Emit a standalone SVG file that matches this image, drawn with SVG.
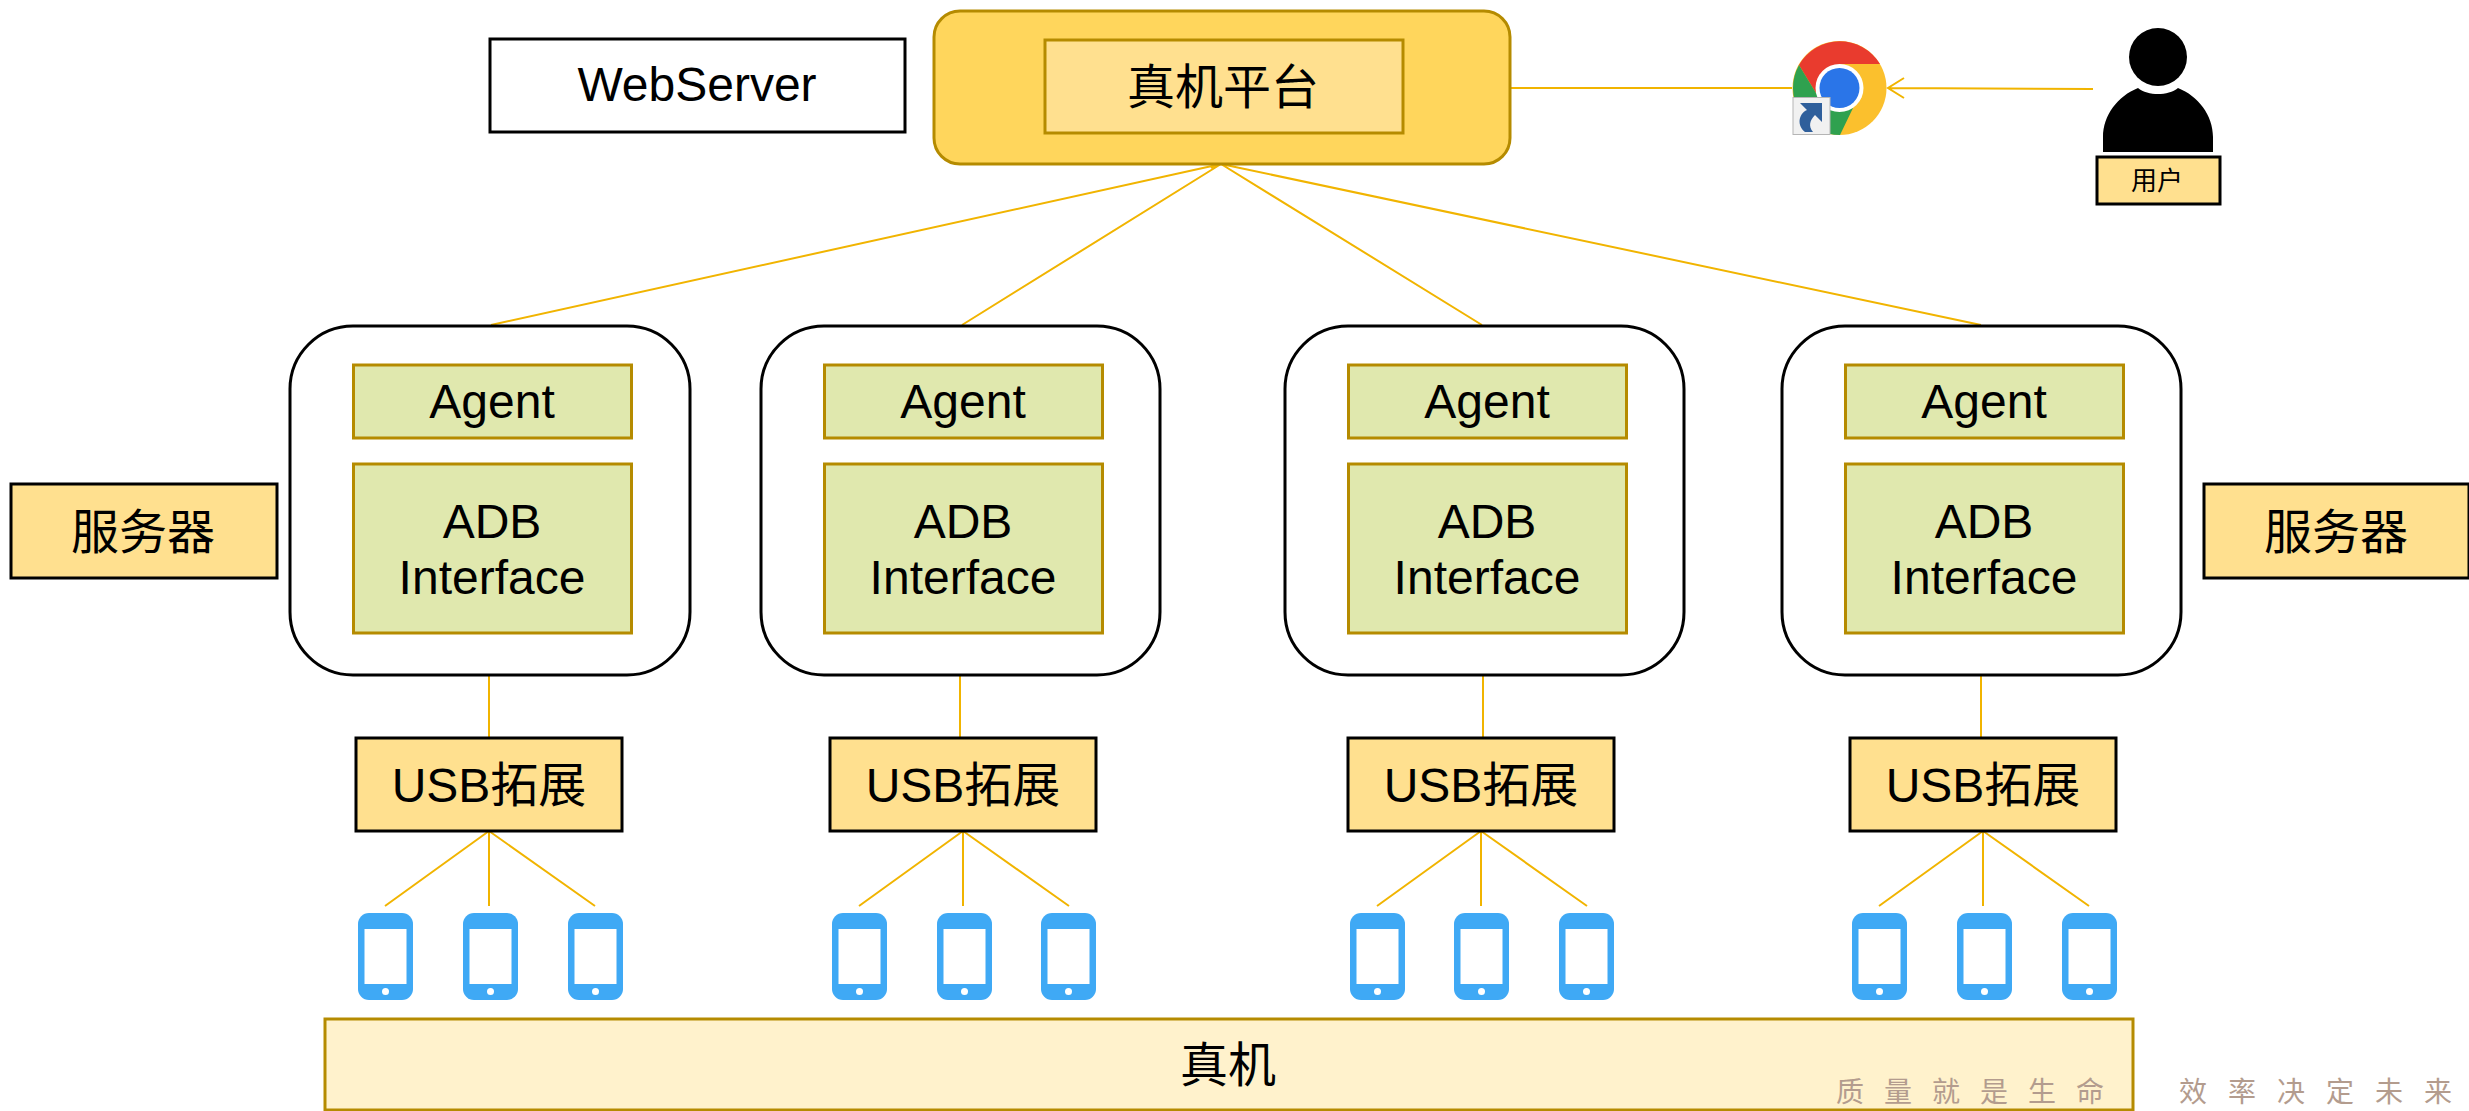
<svg xmlns="http://www.w3.org/2000/svg" width="2469" height="1111" viewBox="0 0 2469 1111">
<style>
text{font-family:"Liberation Sans","Noto Sans CJK SC",sans-serif;font-size:48px;fill:#000;text-anchor:middle}
.y{fill:#FFE08F;stroke:#000;stroke-width:3}
.g{fill:#E0E8AE;stroke:#B58B00;stroke-width:3}
.s{fill:#fff;stroke:#000;stroke-width:3}
.c{stroke:#F1B400;stroke-width:2;fill:none}
text.w{font-family:"Noto Sans CJK SC",sans-serif;font-size:28px;fill:#B39C8E;text-anchor:start}
</style>
<defs>
<g id="phone"><rect x="0" y="0" width="55" height="87" rx="11" fill="#3FA9F5"/><rect x="6.500" y="16" width="42" height="55" fill="#fff"/><circle cx="27.500" cy="78.500" r="3.500" fill="#fff"/></g>
</defs>
<rect width="2469" height="1111" fill="#fff"/>
<g id="connectors">
<path class="c" d="M1221 164L491 325M1221 164L962 325M1221 164L1482 325M1221 164L1981 325M1212 158L1219 163L1211 168"/>
<path class="c" d="M1510 88H1792M2093 89L1888 88M1904 78L1888 88L1904 98"/>
<path class="c" d="M489 675V737M489 831L385 906M489 831V906M489 831L595 906"/>
<path class="c" d="M960 675V737M963 831L859 906M963 831V906M963 831L1069 906"/>
<path class="c" d="M1483 675V737M1481 831L1377 906M1481 831V906M1481 831L1587 906"/>
<path class="c" d="M1981 675V737M1983 831L1879 906M1983 831V906M1983 831L2089 906"/>
</g>
<g id="webserver"><rect class="s" x="490" y="39" width="415" height="93"/><text x="697" y="101">WebServer</text></g>
<g id="platform"><rect x="934" y="11" width="576" height="153" rx="26" fill="#FFD65C" stroke="#B58B00" stroke-width="3"/><rect x="1045" y="40" width="358" height="93" fill="#FFE08F" stroke="#B58B00" stroke-width="3"/><text x="1223" y="104">真机平台</text></g>
<g id="chrome">
<circle cx="1839.500" cy="88" r="47" fill="#FBC02D"/>
<path d="M1799 65A47 47 0 0 1 1880 64H1839.500L1816 93Z" fill="#E93B2E"/>
<path d="M1799 65A47 47 0 0 0 1840 135L1853 108L1816 93Z" fill="#2FA14F"/>
<circle cx="1839.500" cy="88" r="24" fill="#fff"/><circle cx="1839.500" cy="88" r="20" fill="#2A75E8"/>
<rect x="1793" y="97.500" width="37" height="37" fill="#F1F1F1" stroke="#B5B5B5"/>
<path d="M1800 103H1822V122L1815 115C1810 120 1808 126 1813 132H1805C1797 126 1798 114 1807 110Z" fill="#2F5F9B"/>
</g>
<g id="user">
<circle cx="2158" cy="57" r="29"/>
<path d="M2103 152V137C2103 115 2118 96 2138 88C2148 96 2168 96 2178 88C2198 96 2213 115 2213 137V152Z"/>
<rect class="y" x="2097" y="157" width="123" height="47"/><text x="2157" y="190" style="font-size:26px">用户</text>
</g>
<g id="server-label-left"><rect class="y" x="11" y="484" width="266" height="94"/><text x="143" y="549">服务器</text></g>
<g id="server-label-right"><rect class="y" x="2204" y="484" width="265" height="94"/><text x="2336" y="549">服务器</text></g>
<g id="server-1"><rect class="s" x="290" y="326" width="400" height="349" rx="63"/><rect class="g" x="353.500" y="365" width="278" height="73"/><text x="492" y="418">Agent</text><rect class="g" x="353.500" y="464" width="278" height="169"/><text x="492" y="538">ADB</text><text x="492" y="594">Interface</text></g>
<g id="server-2"><rect class="s" x="761" y="326" width="399" height="349" rx="63"/><rect class="g" x="824.500" y="365" width="278" height="73"/><text x="963" y="418">Agent</text><rect class="g" x="824.500" y="464" width="278" height="169"/><text x="963" y="538">ADB</text><text x="963" y="594">Interface</text></g>
<g id="server-3"><rect class="s" x="1285" y="326" width="399" height="349" rx="63"/><rect class="g" x="1348.500" y="365" width="278" height="73"/><text x="1487" y="418">Agent</text><rect class="g" x="1348.500" y="464" width="278" height="169"/><text x="1487" y="538">ADB</text><text x="1487" y="594">Interface</text></g>
<g id="server-4"><rect class="s" x="1782" y="326" width="399" height="349" rx="63"/><rect class="g" x="1845.500" y="365" width="278" height="73"/><text x="1984" y="418">Agent</text><rect class="g" x="1845.500" y="464" width="278" height="169"/><text x="1984" y="538">ADB</text><text x="1984" y="594">Interface</text></g>
<g id="usb-1"><rect class="y" x="356" y="738" width="266" height="93"/><text x="489" y="802">USB拓展</text></g>
<g id="usb-2"><rect class="y" x="830" y="738" width="266" height="93"/><text x="963" y="802">USB拓展</text></g>
<g id="usb-3"><rect class="y" x="1348" y="738" width="266" height="93"/><text x="1481" y="802">USB拓展</text></g>
<g id="usb-4"><rect class="y" x="1850" y="738" width="266" height="93"/><text x="1983" y="802">USB拓展</text></g>
<g id="phones-1"><use href="#phone" x="358" y="913"/><use href="#phone" x="463" y="913"/><use href="#phone" x="568" y="913"/></g>
<g id="phones-2"><use href="#phone" x="832" y="913"/><use href="#phone" x="937" y="913"/><use href="#phone" x="1041" y="913"/></g>
<g id="phones-3"><use href="#phone" x="1350" y="913"/><use href="#phone" x="1454" y="913"/><use href="#phone" x="1559" y="913"/></g>
<g id="phones-4"><use href="#phone" x="1852" y="913"/><use href="#phone" x="1957" y="913"/><use href="#phone" x="2062" y="913"/></g>
<g id="devices"><rect x="325" y="1019" width="1808" height="91" fill="#FFF2CC" stroke="#B58B00" stroke-width="3"/><text x="1228" y="1082">真机</text></g>
<g id="watermark"><text class="w" x="1836" y="1102" style="letter-spacing:20px">质量就是生命</text><text class="w" x="2179" y="1102" style="letter-spacing:21px">效率决定未来</text></g>
</svg>
